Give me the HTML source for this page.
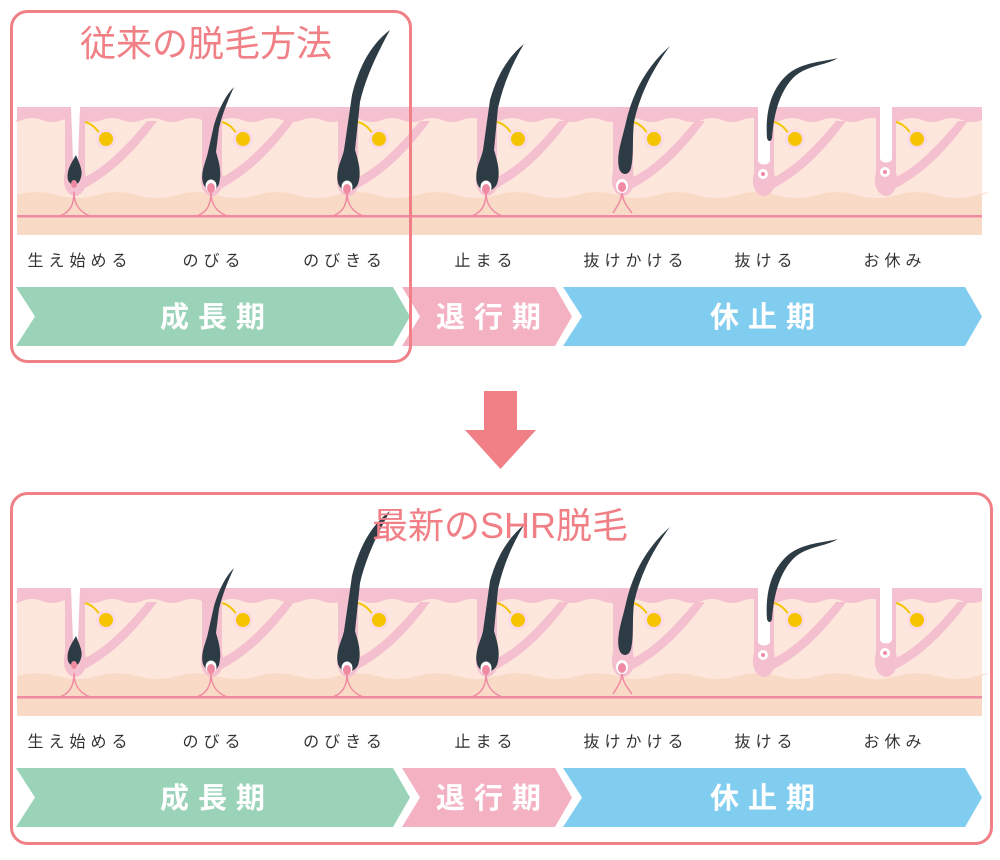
<!DOCTYPE html>
<html><head><meta charset="utf-8"><style>
body{margin:0;background:#fff;width:1000px;height:860px;overflow:hidden;font-family:"Liberation Sans","Noto Sans CJK JP",sans-serif}
svg{display:block}
</style></head><body>
<svg width="1000" height="860" viewBox="0 0 1000 860" xmlns="http://www.w3.org/2000/svg">
<defs>
<g id="fol">
  <path d="M8,178 C30,168 52,145 72,121 L82,121 C62,148 40,172 10,188 Z" fill="#f4bfcf"/>
  <path d="M-10,107 L-10,172 C-14,188 -6,196 0,196 C6,196 14,188 10,172 L10,107 Z" fill="#f4bfcf"/>
  <path d="M10,122 C18,124 22,130 26,135" stroke="#f5c400" stroke-width="2" fill="none"/>
  <circle cx="31" cy="139" r="10" fill="#fbdbe3"/>
  <circle cx="31" cy="139" r="7" fill="#f5c400"/>
</g>
<g id="strip">
  <rect x="17" y="107" width="965" height="128" fill="#fde7dc"/>
  <path d="M17,195 q20,-6 40,0 t40,0 t40,0 t40,0 t40,0 t40,0 t40,0 t40,0 t40,0 t40,0 t40,0 t40,0 t40,0 t40,0 t40,0 t40,0 t40,0 t40,0 t40,0 t40,0 t40,0 t40,0 t40,0 t40,0 t5,0 L982,235 L17,235 Z" fill="#f9dac6"/>
  <rect x="17" y="215" width="965" height="2.5" fill="#ef8aa2"/>
  <path d="M17,107 L982,107 L982,120 q-10,4 -20,0 t-20,0 t-20,0 t-20,0 t-20,0 t-20,0 t-20,0 t-20,0 t-20,0 t-20,0 t-20,0 t-20,0 t-20,0 t-20,0 t-20,0 t-20,0 t-20,0 t-20,0 t-20,0 t-20,0 t-20,0 t-20,0 t-20,0 t-20,0 t-20,0 t-20,0 t-20,0 t-20,0 t-20,0 t-20,0 t-20,0 t-20,0 t-20,0 t-20,0 t-20,0 t-20,0 t-20,0 t-20,0 t-20,0 t-20,0 t-20,0 t-20,0 t-20,0 t-20,0 t-20,0 t-20,0 t-20,0 t-20,0 t-5,0 Z" fill="#f5c1d0"/>
  <use href="#fol" x="75"/><use href="#fol" x="212"/><use href="#fol" x="348"/>
  <use href="#fol" x="487"/><use href="#fol" x="623"/><use href="#fol" x="764"/><use href="#fol" x="886"/>
  <path d="M71,107 L80,107 L78,160 L73,160 Z" fill="#fff"/>
  <path d="M758,107 L770,107 L770,160 C770,166 758,166 758,160 Z" fill="#fff"/>
  <path d="M880,107 L892,107 L892,158 C892,164 880,164 880,158 Z" fill="#fff"/>
  <g fill="none" stroke="#ef8aa2" stroke-width="1.5">
    <path d="M60,216 C70,212 74,205 74,192 C74,205 80,212 90,216"/>
    <path d="M197,216 C207,212 211,205 211,192 C211,205 217,212 227,216"/>
    <path d="M333,216 C343,212 347,205 347,192 C347,205 353,212 363,216"/>
    <path d="M472,216 C482,212 486,205 486,192 C486,205 492,212 502,216"/>
    <path d="M613,213 C618,205 622,200 622,190 C622,200 626,205 632,213"/>
  </g>
  <g fill="#2d3b44">
    <path d="M68,180 C66,170 72,162 76,155 C80,165 84,172 80,180 C78,186 70,186 68,180 Z"/>
    <path d="M203,183 C200,172 206,162 208,152 L214,125 C219,108 226,95 234,87 C228,100 223,112 219,128 L216,152 C219,162 222,172 219,184 C216,192 206,192 203,183 Z"/>
    <path d="M338,183 C335,170 342,160 344,150 L352,95 C360,62 374,42 390,30 C378,52 366,76 360,102 L355,150 C358,160 362,172 358,184 C354,193 341,193 338,183 Z"/>
    <path d="M477,183 C474,170 481,160 483,150 L490,100 C497,75 508,57 524,44 C512,64 503,85 498,108 L494,150 C497,160 501,172 497,184 C493,193 480,193 477,183 Z"/>
    <path d="M619,168 C616,155 622,140 626,122 C632,95 645,68 670,46 C652,70 640,95 634,122 C632,140 634,155 631,168 C629,176 621,176 619,168 Z"/>
    <path d="M767,138 C765,110 772,88 788,74 C803,62 822,62 838,58 C825,66 806,65 793,78 C780,92 774,112 772,138 C771,142 768,142 767,138 Z"/>
  </g>
  <g fill="#fff"><ellipse cx="211" cy="186" rx="5.5" ry="6.5"/><ellipse cx="347" cy="187" rx="5.5" ry="6.5"/><ellipse cx="486" cy="187" rx="5.5" ry="6.5"/><ellipse cx="622" cy="186" rx="6" ry="7"/><circle cx="763" cy="174" r="5"/><circle cx="885" cy="172" r="5"/></g>
  <g fill="#ef8aa2"><ellipse cx="74" cy="184" rx="3" ry="4"/><ellipse cx="211" cy="188" rx="4" ry="5"/><ellipse cx="347" cy="189" rx="4" ry="5"/><ellipse cx="486" cy="189" rx="4" ry="5"/><ellipse cx="622" cy="187" rx="4" ry="5"/><circle cx="763" cy="174" r="2"/><circle cx="885" cy="172" r="2"/></g>
  <g font-size="16" fill="#333" letter-spacing="5" text-anchor="middle">
    <text x="80" y="266">生え始める</text><text x="214" y="266">のびる</text><text x="345" y="266">のびきる</text>
    <text x="486" y="266">止まる</text><text x="636" y="266">抜けかける</text><text x="766" y="266">抜ける</text><text x="895" y="266">お休み</text>
  </g>
  <path d="M16,287 L393,287 L410,316.5 L393,346 L16,346 L35,316.5 Z" fill="#9ad3b7"/>
  <path d="M402,287 L555,287 L572,316.5 L555,346 L402,346 L420,316.5 Z" fill="#f4b1c2"/>
  <path d="M563,287 L965,287 L982,316.5 L965,346 L563,346 L582,316.5 Z" fill="#80cdf0"/>
  <g font-size="29" font-weight="bold" fill="#fff" letter-spacing="9" text-anchor="middle">
    <text x="217" y="327">成長期</text><text x="493" y="327">退行期</text><text x="767" y="327">休止期</text>
  </g>
</g>
</defs>
<use href="#strip"/>
<use href="#strip" y="481"/>
<rect x="11.5" y="11.5" width="399" height="350" rx="16" fill="none" stroke="#f07f86" stroke-width="3"/>
<rect x="11.5" y="493.5" width="980" height="350" rx="16" fill="none" stroke="#f07f86" stroke-width="3"/>
<text x="206" y="56" font-size="36" fill="#f07f86" text-anchor="middle">従来の脱毛方法</text>
<text x="500" y="538" font-size="36" fill="#f07f86" text-anchor="middle">最新のSHR脱毛</text>
<rect x="484" y="391" width="33" height="40" fill="#f07f86"/>
<path d="M465,430 L536,430 L500.5,469 Z" fill="#f07f86"/>
</svg>
</body></html>
